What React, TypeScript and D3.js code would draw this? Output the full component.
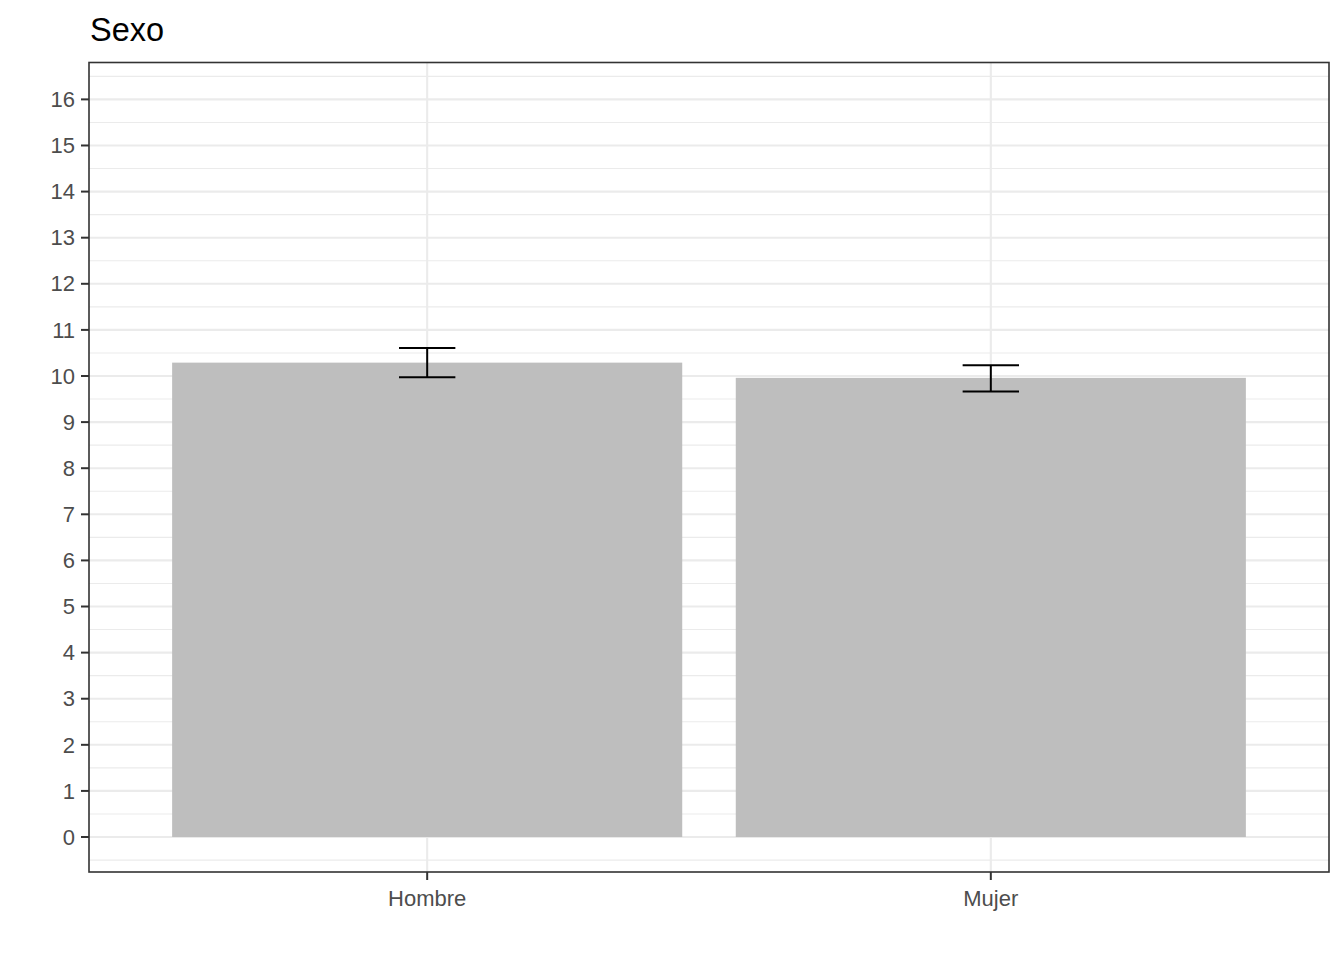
import React from "react";
import * as d3 from "d3";

const categories = ["Hombre", "Mujer"];
const means = [10.29, 9.96];
const lower = [9.975, 9.665];
const upper = [10.61, 10.235];
const yTicks = d3.range(0, 17);
const title = "Sexo";

const W = 1344;
const H = 960;
const panel = { left: 89, right: 1329, top: 62.5, bottom: 872 };

export default function App() {
  const y = d3
    .scaleLinear()
    .domain([-0.7586, 16.8])
    .range([panel.bottom, panel.top]);
  // ggplot-style discrete expansion: 0.6 units each side
  const x = d3
    .scaleLinear()
    .domain([-0.6, categories.length - 1 + 0.6])
    .range([panel.left, panel.right]);
  const unit = x(1) - x(0);
  const cx = (i: number) => x(i);
  const barW = unit * 0.905;
  const capW = unit * 0.1;
  const minor = d3.range(-0.5, 17, 1).filter((v) => y(v) > panel.top && y(v) < panel.bottom);
  const font = "'Liberation Sans', Arial, sans-serif";

  return (
    <svg
      width={W}
      height={H}
      style={{ position: "absolute", left: 0, top: 0, background: "#fff" }}
      fontFamily={font}
    >
      <rect x={0} y={0} width={W} height={H} fill="#fff" />
      <text x={90} y={41} fontSize={32.5} fill="#000">
        {title}
      </text>
      <g>
        {minor.map((v) => (
          <line key={"mi" + v} x1={panel.left} x2={panel.right} y1={y(v)} y2={y(v)} stroke="#EBEBEB" strokeWidth={1.1} />
        ))}
        {yTicks.map((v) => (
          <line key={"ma" + v} x1={panel.left} x2={panel.right} y1={y(v)} y2={y(v)} stroke="#EBEBEB" strokeWidth={2.1} />
        ))}
        {categories.map((c, i) => (
          <line key={"v" + c} x1={cx(i)} x2={cx(i)} y1={panel.top} y2={panel.bottom} stroke="#EBEBEB" strokeWidth={2.1} />
        ))}
      </g>
      <g>
        {categories.map((c, i) => (
          <rect
            key={"b" + c}
            x={cx(i) - barW / 2}
            y={y(means[i])}
            width={barW}
            height={y(0) - y(means[i])}
            fill="#BEBEBE"
          />
        ))}
      </g>
      <g stroke="#000" strokeWidth={2}>
        {categories.map((c, i) => (
          <g key={"e" + c}>
            <line x1={cx(i) - capW / 2} x2={cx(i) + capW / 2} y1={y(upper[i])} y2={y(upper[i])} />
            <line x1={cx(i) - capW / 2} x2={cx(i) + capW / 2} y1={y(lower[i])} y2={y(lower[i])} />
            <line x1={cx(i)} x2={cx(i)} y1={y(upper[i])} y2={y(lower[i])} />
          </g>
        ))}
      </g>
      <rect
        x={panel.left}
        y={panel.top}
        width={panel.right - panel.left}
        height={panel.bottom - panel.top}
        fill="none"
        stroke="#333333"
        strokeWidth={1.6}
      />
      <g>
        {yTicks.map((v) => (
          <g key={"yt" + v}>
            <line x1={panel.left - 8} x2={panel.left} y1={y(v)} y2={y(v)} stroke="#333333" strokeWidth={2} />
            <text x={panel.left - 14} y={y(v)} dy="0.35em" textAnchor="end" fontSize={22} fill="#4D4D4D">
              {v}
            </text>
          </g>
        ))}
      </g>
      <g>
        {categories.map((c, i) => (
          <g key={"xt" + c}>
            <line x1={cx(i)} x2={cx(i)} y1={panel.bottom} y2={panel.bottom + 8} stroke="#333333" strokeWidth={2} />
            <text x={cx(i)} y={906} textAnchor="middle" fontSize={22} fill="#4D4D4D">
              {c}
            </text>
          </g>
        ))}
      </g>
    </svg>
  );
}
